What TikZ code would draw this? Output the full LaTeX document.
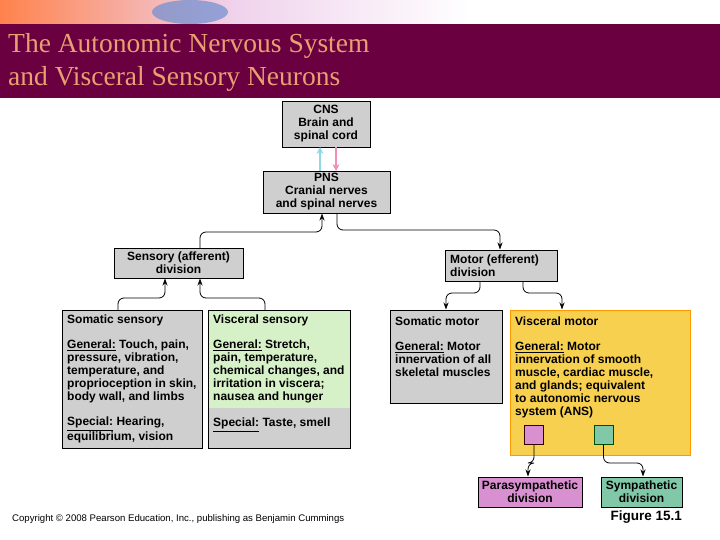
\documentclass[tikz,border=0pt]{standalone}
\usepackage{fontspec}
\setmainfont{Liberation Sans}
\newfontfamily\titlefont{Liberation Serif}
\usetikzlibrary{arrows.meta}
\definecolor{banner}{HTML}{6A0040}
\definecolor{boxgray}{HTML}{CFCFCF}
\definecolor{vgreen}{HTML}{D6F0C8}
\definecolor{vyellow}{HTML}{F8D050}
\definecolor{pink}{HTML}{D890D0}
\definecolor{sgreen}{HTML}{80C8A8}
\definecolor{titlec}{HTML}{E8A070}
\definecolor{upc}{HTML}{90D8E8}
\definecolor{downc}{HTML}{F090B8}
\newcommand{\ul}[1]{\underline{#1}}
\tikzset{
  box/.style={draw=black, line width=0.8pt, fill=boxgray},
  lbl/.style={font=\bfseries\fontsize{12}{13}\selectfont, align=center, inner sep=0pt},
  body/.style={font=\bfseries\fontsize{12}{13}\selectfont, align=left, anchor=north west, inner sep=0pt},
  conn/.style={draw=black, line width=0.8pt, rounded corners=6pt, -{Stealth[length=7pt,width=5pt]}}
}
\begin{document}
\begin{tikzpicture}[x=1pt,y=-1pt]
\useasboundingbox (0,0) rectangle (720,540);
\fill[white] (0,0) rectangle (720,540);
% top image strip (approximation)
\shade[left color=orange!60!red!70, right color=white, middle color=pink!40] (0,0) rectangle (470,24);
\fill[cyan!40!blue!60, opacity=0.7] (190,12) ellipse [x radius=38, y radius=12];
\fill[banner] (0,24) rectangle (720,98);
\node[anchor=west, text=titlec, font=\titlefont\fontsize{27.5}{30}\selectfont, inner sep=0pt] (t1) at (8,46) {The Autonomic Nervous System};
\node[anchor=west, text=titlec, font=\titlefont\fontsize{27.5}{30}\selectfont, inner sep=0pt] (t2) at (8,79) {and Visceral Sensory Neurons};
% boxes
\draw[box] (282,101) rectangle (370,147);
\node[lbl] (cns) at (326,124) {CNS\\Brain and\\spinal cord};
\draw[box] (263,171) rectangle (390,213);
\node[lbl] (pns) at (326.5,192) {PNS\\Cranial nerves\\and spinal nerves};
\draw[box] (114,248) rectangle (243,278);
\node[lbl] (sens) at (178.5,263) {Sensory (afferent)\\division};
\draw[box] (445,250) rectangle (557,281);
\node[lbl, align=left, anchor=west] (mot) at (450,265.5) {Motor (efferent)\\division};
% CNS-PNS arrows
\draw[upc, line width=2.5pt, -{Stealth[length=7pt,width=7pt]}] (320,171) -- (320,147);
\draw[downc, line width=2.5pt, -{Stealth[length=7pt,width=7pt]}] (336,147) -- (336,171);
% somatic sensory
\draw[box] (62,310) rectangle (202,448);
\node[body] (ss) at (67,315) {Somatic sensory\\[12pt]\ul{General:} Touch, pain,\\pressure, vibration,\\temperature, and\\proprioception in skin,\\body wall, and limbs\\[12pt]\ul{Special:} Hearing,\\equilibrium, vision};
% visceral sensory
\fill[vgreen] (208,310) rectangle (350,408);
\fill[boxgray] (208,408) rectangle (350,448);
\draw[black, line width=0.8pt] (208,310) rectangle (350,448);
\node[body] (vs) at (213,315) {Visceral sensory\\[12pt]\ul{General:} Stretch,\\pain, temperature,\\chemical changes, and\\irritation in viscera;\\nausea and hunger\\[13pt]\ul{Special:} Taste, smell};
% somatic motor
\draw[box] (390,310) rectangle (502,403);
\node[body] (sm) at (395,317) {Somatic motor\\[12pt]\ul{General:} Motor\\innervation of all\\skeletal muscles};
% visceral motor
\draw[draw=orange!80!yellow, fill=vyellow, line width=0.8pt] (510,310) rectangle (690,455);
\node[body] (vm) at (515,317) {Visceral motor\\[12pt]\ul{General:} Motor\\innervation of smooth\\muscle, cardiac muscle,\\and glands; equivalent\\to autonomic nervous\\system (ANS)};
\node[draw=black!80!red, fill=pink, line width=0.8pt, minimum width=19pt, minimum height=19pt, inner sep=0pt] (ps) at (534,434.5) {};
\node[draw=black!70!green, fill=sgreen, line width=0.8pt, minimum width=19pt, minimum height=19pt, inner sep=0pt] (sq) at (603.5,434.5) {};
\draw[box, fill=pink] (478,477) rectangle (582,507);
\node[lbl] (para) at (530,492) {Parasympathetic\\division};
\draw[box, fill=sgreen] (601,477) rectangle (682,507);
\node[lbl] (sym) at (641.5,492) {Sympathetic\\division};
% connectors
\draw[conn] (200,248) -- (200,232) -- (322,232) -- (322,213.5);
\draw[conn] (337,213) -- (337,230) -- (500,230) -- (500,249.5);
\draw[conn] (118,310) -- (118,298) -- (165,298) -- (165,278.5);
\draw[conn] (265,310) -- (265,298) -- (200,298) -- (200,278.5);
\draw[conn] (480,281) -- (480,293) -- (446,293) -- (446,309.5);
\draw[conn] (523,281) -- (523,293) -- (562,293) -- (562,309.5);
\draw[conn] (ps.south) -- (534,463) -- (528,463) -- (528,476.5);
\draw[conn] (sq.south) -- (603.5,463) -- (643,463) -- (643,476.5);
% footer
\node[anchor=west, font=\fontsize{9.6}{11}\selectfont, inner sep=0pt] (copy) at (12,519) {Copyright © 2008 Pearson Education, Inc., publishing as Benjamin Cummings};
\node[anchor=east, font=\bfseries\fontsize{13.5}{15}\selectfont, inner sep=0pt] (fig) at (682,517) {Figure 15.1};
\end{tikzpicture}
\end{document}
